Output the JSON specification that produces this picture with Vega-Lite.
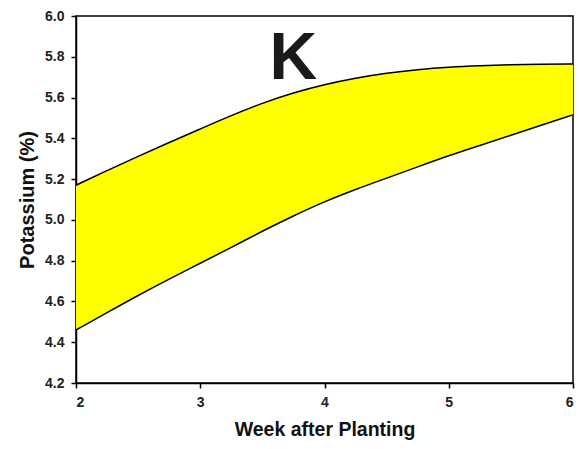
{
  "$schema": "https://vega.github.io/schema/vega-lite/v6.json",
  "width": 497,
  "height": 367,
  "autosize": {"type": "none"},
  "padding": {"left": 76, "top": 16, "right": 6, "bottom": 66},
  "background": "white",
  "config": {
    "view": {"stroke": "black", "strokeWidth": 1.5},
    "font": "Liberation Sans",
    "axis": {
      "domainColor": "black",
      "domainWidth": 1.5,
      "tickColor": "black",
      "tickWidth": 1.5,
      "tickSize": 5,
      "grid": false,
      "labelFont": "Liberation Sans",
      "labelFontWeight": "bold",
      "labelFontSize": 14,
      "labelColor": "#222222",
      "titleFont": "Liberation Sans",
      "titleFontWeight": "bold",
      "titleColor": "#111111"
    }
  },
  "data": {
    "values": [
      {"week": 2.0, "lower": 4.46, "upper": 5.17},
      {"week": 2.25, "lower": 4.545, "upper": 5.242},
      {"week": 2.5, "lower": 4.63, "upper": 5.312},
      {"week": 2.75, "lower": 4.71, "upper": 5.38},
      {"week": 3.0, "lower": 4.787, "upper": 5.446},
      {"week": 3.25, "lower": 4.865, "upper": 5.512},
      {"week": 3.5, "lower": 4.945, "upper": 5.573},
      {"week": 3.75, "lower": 5.02, "upper": 5.624},
      {"week": 4.0, "lower": 5.09, "upper": 5.664},
      {"week": 4.25, "lower": 5.15, "upper": 5.696},
      {"week": 4.5, "lower": 5.205, "upper": 5.72},
      {"week": 4.75, "lower": 5.26, "upper": 5.737},
      {"week": 5.0, "lower": 5.315, "upper": 5.749},
      {"week": 5.25, "lower": 5.365, "upper": 5.756},
      {"week": 5.5, "lower": 5.415, "upper": 5.761},
      {"week": 5.75, "lower": 5.465, "upper": 5.764},
      {"week": 6.0, "lower": 5.515, "upper": 5.765}
    ]
  },
  "encoding": {
    "x": {
      "field": "week",
      "type": "quantitative",
      "scale": {"domain": [2, 6], "nice": false, "zero": false},
      "axis": {"values": [2, 3, 4, 5, 6], "title": "Week after Planting", "titleFontSize": 19.5, "labelPadding": 7, "titlePadding": 11, "format": "d"}
    }
  },
  "layer": [
    {
      "mark": {"type": "area", "color": "#ffff00", "opacity": 1, "interpolate": "basis"},
      "encoding": {
        "y": {
          "field": "lower",
          "type": "quantitative",
          "scale": {"domain": [4.2, 6.0], "nice": false, "zero": false},
          "axis": {"values": [4.2, 4.4, 4.6, 4.8, 5.0, 5.2, 5.4, 5.6, 5.8, 6.0], "format": ".1f", "title": "Potassium (%)", "titleFontSize": 20, "labelPadding": 7, "titlePadding": 7}
        },
        "y2": {"field": "upper"}
      }
    },
    {
      "mark": {"type": "line", "color": "black", "strokeWidth": 1.5, "interpolate": "basis"},
      "encoding": {"y": {"field": "upper", "type": "quantitative"}}
    },
    {
      "mark": {"type": "line", "color": "black", "strokeWidth": 1.5, "interpolate": "basis"},
      "encoding": {"y": {"field": "lower", "type": "quantitative"}}
    },
    {
      "data": {"values": [{"label": "K", "week": 3.75, "pos": 5.69}]},
      "mark": {"type": "text", "font": "Liberation Sans", "fontWeight": "bold", "fontSize": 66, "color": "#1a1a1a", "baseline": "alphabetic", "align": "center"},
      "encoding": {
        "y": {"field": "pos", "type": "quantitative"},
        "text": {"field": "label"}
      }
    }
  ]
}
